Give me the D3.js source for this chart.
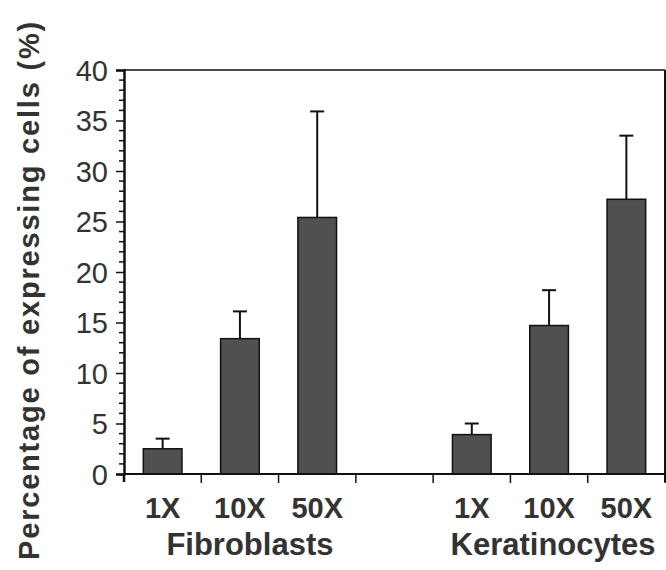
<!DOCTYPE html>
<html><head><meta charset="utf-8">
<script src="https://cdn.jsdelivr.net/npm/d3@7"></script>
<style>body{margin:0;background:#fff}svg{display:block}</style>
</head><body>
<svg id="c" width="666" height="570"></svg>
<script>
const categories = ["F1X","F10X","F50X","gap","K1X","K10X","K50X"];
const catLabels = ["1X","10X","50X","","1X","10X","50X"];
const means = [2.5, 13.4, 25.4, null, 3.9, 14.7, 27.2];
const errs = [1.0, 2.7, 10.5, null, 1.1, 3.5, 6.3];
const groups = [{name:"Fibroblasts", cat:"F10X", dx:10},{name:"Keratinocytes", cat:"K10X", dx:4}];
const yTicks = [0,5,10,15,20,25,30,35,40];

const svg = d3.select("#c");
const L=124, R=665, T=70, B=474;
const x = d3.scaleBand().domain(categories).range([L,R]).paddingInner(0.5).paddingOuter(0.25);
const y = d3.scaleLinear().domain([0,40]).range([B,T]);
const col = "#111";
const font = "'Liberation Sans', Arial, sans-serif";

// frame top and right
svg.append("line").attr("x1",L).attr("x2",R).attr("y1",T).attr("y2",T).attr("stroke",col).attr("stroke-width",1.5);
svg.append("line").attr("x1",R).attr("x2",R).attr("y1",T).attr("y2",B+8).attr("stroke",col).attr("stroke-width",2);

// bars
const data = categories.map((c,i)=>({c, m:means[i], e:errs[i]})).filter(d=>d.m!==null);
const g = svg.append("g");
g.selectAll("line.err").data(data).join("line")
  .attr("x1",d=>x(d.c)+x.bandwidth()/2).attr("x2",d=>x(d.c)+x.bandwidth()/2)
  .attr("y1",d=>y(d.m)).attr("y2",d=>y(d.m+d.e)).attr("stroke",col).attr("stroke-width",2);
g.selectAll("line.cap").data(data).join("line")
  .attr("x1",d=>x(d.c)+x.bandwidth()/2-7).attr("x2",d=>x(d.c)+x.bandwidth()/2+7)
  .attr("y1",d=>y(d.m+d.e)).attr("y2",d=>y(d.m+d.e)).attr("stroke",col).attr("stroke-width",2);
g.selectAll("rect").data(data).join("rect")
  .attr("x",d=>x(d.c)).attr("width",x.bandwidth())
  .attr("y",d=>y(d.m)).attr("height",d=>y(0)-y(d.m))
  .attr("fill","#505050").attr("stroke",col).attr("stroke-width",1.5);

// y axis
const ya = svg.append("g").attr("transform",`translate(${L},0)`)
  .call(d3.axisLeft(y).tickValues(yTicks).tickSize(8).tickFormat(d3.format("d")));
ya.select(".domain").attr("stroke",col).attr("stroke-width",2.5);
ya.selectAll(".tick line").attr("stroke",col).attr("stroke-width",1.5);
ya.selectAll(".tick text").attr("font-family",font).attr("font-size",29).attr("fill","#333").attr("x",-16).attr("dy","0.36em");
const minor = d3.range(0,41).filter(v=>v%5!==0);
svg.append("g").selectAll("line").data(minor).join("line")
  .attr("x1",L-5).attr("x2",L).attr("y1",d=>y(d)).attr("y2",d=>y(d)).attr("stroke",col).attr("stroke-width",1.5);

// x axis
svg.append("line").attr("x1",L).attr("x2",R).attr("y1",B).attr("y2",B).attr("stroke",col).attr("stroke-width",2);
const bounds = categories.map(c=>x(c)-x.step()*x.paddingInner()/2).slice(1).concat([R]);
svg.append("g").selectAll("line").data(bounds).join("line")
  .attr("x1",d=>d).attr("x2",d=>d).attr("y1",B).attr("y2",B+9).attr("stroke",col).attr("stroke-width",1.5);
svg.append("line").attr("x1",L).attr("x2",L).attr("y1",B).attr("y2",B+8).attr("stroke",col).attr("stroke-width",2.5);

svg.append("g").selectAll("text").data(categories).join("text")
  .attr("x",c=>x(c)+x.bandwidth()/2).attr("y",518)
  .attr("text-anchor","middle").attr("font-family",font)
  .attr("font-weight","bold").attr("font-size",29).attr("fill","#333")
  .text((c,i)=>catLabels[i]);
svg.append("g").selectAll("text").data(groups).join("text")
  .attr("x",d=>x(d.cat)+x.bandwidth()/2+d.dx).attr("y",555)
  .attr("text-anchor","middle").attr("font-family",font)
  .attr("font-weight","bold").attr("font-size",31).attr("fill","#333")
  .text(d=>d.name);

svg.append("text").attr("transform","translate(39,290) rotate(-90)")
  .attr("text-anchor","middle").attr("font-family",font)
  .attr("font-weight","bold").attr("font-size",29).attr("fill","#333").attr("letter-spacing",1.8)
  .text("Percentage of expressing cells (%)");
</script>
</body></html>
